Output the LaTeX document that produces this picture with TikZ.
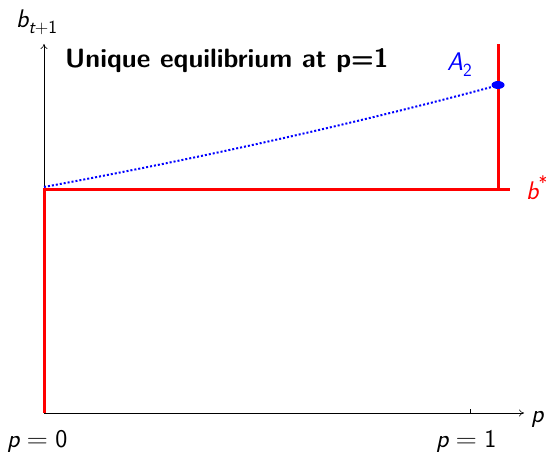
\documentclass[tikz,border=0pt]{standalone}
\usetikzlibrary{arrows.meta,shapes.geometric}
\newcommand{\vi}[1]{{\itshape #1}}
\newcommand{\sbx}[1]{\raisebox{-0.22em}{\fontsize{18.5}{20}\selectfont #1}}
\newcommand{\spx}[1]{\raisebox{0.42em}{\fontsize{18.5}{20}\selectfont #1}}
\newcommand{\eqx}{\hspace{0.28em}\scalebox{1.15}[1]{=}\hspace{0.28em}}
\begin{document}
\begin{tikzpicture}[x=1pt,y=-1pt,
  axis/.style={line width=0.6pt,-{To[length=5pt,width=7pt]}},
  redline/.style={red,line width=3pt},
  lbl/.style={font=\sffamily\fontsize{25.5}{30}\selectfont,inner sep=0pt,anchor=base west}]
\useasboundingbox (0,0) rectangle (554,454);
\coordinate (O) at (44,413);
\coordinate (XE) at (524,413);
\coordinate (YE) at (44,44);
\draw[axis] (O) -- (XE);
\draw[axis] (O) -- (YE);
\draw[line width=0.5pt] (470,413) -- (470,409);
\coordinate (B0) at (44,190);
\coordinate (B1) at (510,190);
\coordinate (T1) at (498,190);
\coordinate (T2) at (498,44);
\draw[redline] (O) -- (B0) -- (B1);
\draw[redline] (T1) -- (T2);
\draw[blue,line width=2pt,dotted,domain=0:1,samples=40]
  plot ({44+454*\x},{413-226*exp(ln(1.45)*\x)});
\node[fill=blue,ellipse,minimum width=13pt,minimum height=8pt,inner sep=0pt] (A) at (498,85) {};
\node[lbl,blue] (Al) at (447,71) {\vi{A}\sbx{2}};
\node[lbl,red] (bs) at (526,200) {\vi{b}\spx{*}};
\node[lbl] (yl) at (16,28) {\vi{b}\sbx{\vi{t}+1}};
\node[lbl] (xl) at (531,422) {\vi{p}};
\node[lbl] (p0) at (7,447) {\vi{p}\eqx 0};
\node[lbl] (p1) at (436,447) {\vi{p}\eqx 1};
\node[font=\sffamily\bfseries\fontsize{26.5}{30}\selectfont,anchor=base west,inner sep=0pt] (title) at (65,68) {Unique equilibrium at p=1};
\end{tikzpicture}
\end{document}
